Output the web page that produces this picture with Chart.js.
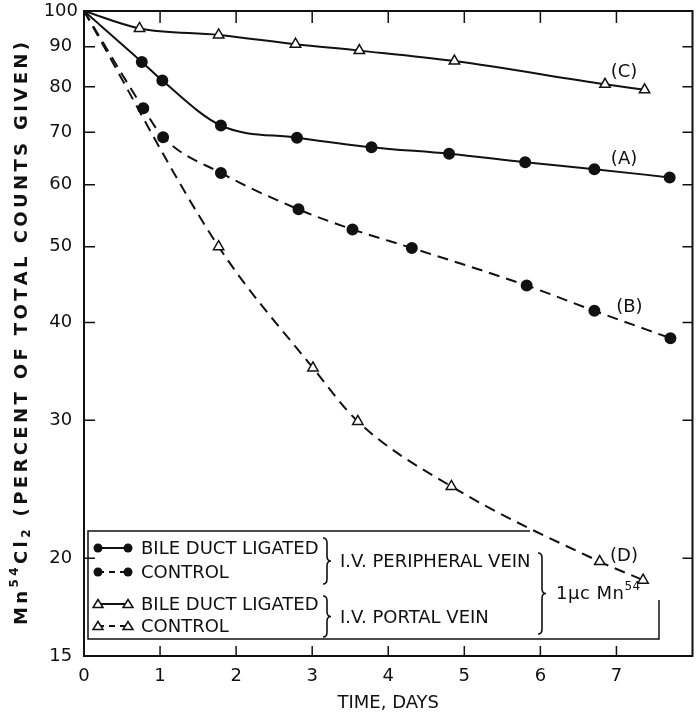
<!DOCTYPE html>
<html>
<head>
<meta charset="utf-8">
<script src="https://cdn.jsdelivr.net/npm/chart.js@4/dist/chart.umd.min.js"></script>
<style>
  html, body { margin: 0; padding: 0; background: #fff; }
</style>
</head>
<body>
<canvas id="chart" width="700" height="716"></canvas>
<script>
// values (time in days, % of total counts given)
const timesA = [0, 0.76, 1.03, 1.80, 2.80, 3.78, 4.80, 5.80, 6.71, 7.70];
const valuesA = [100, 86.1, 81.5, 71.4, 68.9, 67.0, 65.7, 64.1, 62.8, 61.3];
const timesB = [0, 0.78, 1.04, 1.80, 2.82, 3.53, 4.31, 5.82, 6.71, 7.71];
const valuesB = [100, 75.1, 69.0, 62.1, 55.8, 52.6, 49.8, 44.6, 41.4, 38.2];
const timesC = [0, 0.73, 1.77, 2.78, 3.62, 4.87, 6.85, 7.37];
const valuesC = [100, 95.0, 93.2, 90.7, 89.0, 86.3, 80.6, 79.3];
const timesD = [0, 1.77, 3.01, 3.60, 4.83, 6.78, 7.35];
const valuesD = [100, 50.0, 35.0, 29.9, 24.7, 19.8, 18.75];

const xTicks = [0, 1, 2, 3, 4, 5, 6, 7];
const yTicks = [15, 20, 30, 40, 50, 60, 70, 80, 90, 100];

// curve tags, placed in data units
const curveNames = ['(A)', '(B)', '(C)', '(D)'];
const curveLabelX = [7.1, 7.17, 7.1, 7.1];
const curveLabelY = [64.6, 41.8, 83.6, 20.1];

const INK = '#111';
const FONT = '"DejaVu Sans", sans-serif';

function pts(xs, ys) {
    return xs.map((x, i) => ({ x: x, y: ys[i] }));
}

// no marker at the starting point (0, 100)
const dotSize = (ctx) => (ctx.dataIndex === 0 ? 0 : 5);
const triSize = (ctx) => (ctx.dataIndex === 0 ? 0 : 6);

function drawBrace(ctx, x, y1, y2, w) {
    const mid = (y1 + y2) / 2;
    const r = 5;
    ctx.beginPath();
    ctx.moveTo(x, y1);
    ctx.quadraticCurveTo(x + w, y1, x + w, y1 + r);
    ctx.lineTo(x + w, mid - r);
    ctx.quadraticCurveTo(x + w, mid, x + 2 * w, mid);
    ctx.quadraticCurveTo(x + w, mid, x + w, mid + r);
    ctx.lineTo(x + w, y2 - r);
    ctx.quadraticCurveTo(x + w, y2, x, y2);
    ctx.stroke();
}

function legendSymbol(ctx, y, dashed, filled) {
    const x1 = 98, x2 = 128;
    ctx.save();
    ctx.lineWidth = 2;
    ctx.strokeStyle = INK;
    ctx.setLineDash(dashed ? [6, 5] : []);
    ctx.beginPath();
    ctx.moveTo(x1, y);
    ctx.lineTo(x2, y);
    ctx.stroke();
    ctx.setLineDash([]);
    [x1, x2].forEach((x) => {
        ctx.beginPath();
        if (filled) {
            ctx.arc(x, y, 4.5, 0, Math.PI * 2);
            ctx.fillStyle = INK;
            ctx.fill();
        } else {
            ctx.moveTo(x, y - 4.5);
            ctx.lineTo(x + 5, y + 3.5);
            ctx.lineTo(x - 5, y + 3.5);
            ctx.closePath();
            ctx.fillStyle = '#fff';
            ctx.fill();
            ctx.lineWidth = 1.5;
            ctx.stroke();
        }
    });
    ctx.restore();
}

// draw a list of [text, font, shift] pieces along a baseline, with extra letter spacing
function drawPieces(ctx, pieces, x, y, spacing) {
    pieces.forEach(([text, font, shift]) => {
        ctx.font = font;
        for (const ch of text) {
            ctx.fillText(ch, x, y + shift);
            x += ctx.measureText(ch).width + spacing;
        }
    });
    return x;
}

function piecesWidth(ctx, pieces, spacing) {
    let w = 0, n = 0;
    pieces.forEach(([text, font]) => {
        ctx.font = font;
        for (const ch of text) {
            w += ctx.measureText(ch).width;
            n++;
        }
    });
    return w + spacing * (n - 1);
}

const decorations = {
    id: 'decorations',
    afterDraw(chart) {
        const ctx = chart.ctx;
        const a = chart.chartArea;
        const xs = chart.scales.x;
        const ys = chart.scales.y;
        ctx.save();
        ctx.strokeStyle = INK;
        ctx.fillStyle = INK;

        // frame
        ctx.lineWidth = 2;
        ctx.strokeRect(a.left, a.top, a.right - a.left, a.bottom - a.top);

        // inward ticks on all four sides
        ctx.lineWidth = 1.5;
        ctx.beginPath();
        yTicks.slice(1, -1).forEach((v) => {
            const py = ys.getPixelForValue(v);
            ctx.moveTo(a.left, py); ctx.lineTo(a.left + 11, py);
            ctx.moveTo(a.right, py); ctx.lineTo(a.right - 10, py);
        });
        xTicks.slice(1).forEach((v) => {
            const px = xs.getPixelForValue(v);
            ctx.moveTo(px, a.top); ctx.lineTo(px, a.top + 12);
            ctx.moveTo(px, a.bottom); ctx.lineTo(px, a.bottom - 10);
        });
        ctx.stroke();

        // curve tags
        ctx.font = '18px ' + FONT;
        ctx.textAlign = 'center';
        ctx.textBaseline = 'middle';
        curveNames.forEach((name, i) => {
            ctx.fillText(name, xs.getPixelForValue(curveLabelX[i]), ys.getPixelForValue(curveLabelY[i]));
        });

        // x axis title
        ctx.fillText('TIME, DAYS', (a.left + a.right) / 2, 703);

        // y axis title, rotated, fitted to the plot height
        const big = 'bold 18px ' + FONT;
        const small = 'bold 12px ' + FONT;
        const yPieces = [
            ['Mn', big, 0], ['54', small, -7], ['Cl', big, 0], ['2', small, 5],
            [' (PERCENT OF TOTAL COUNTS GIVEN)', big, 0]
        ];
        const target = 583;
        const natural = piecesWidth(ctx, yPieces, 0);
        let count = 0;
        yPieces.forEach((p) => { count += [...p[0]].length; });
        const spacing = Math.max(0, (target - natural) / (count - 1));
        ctx.save();
        ctx.translate(22, (a.top + a.bottom) / 2);
        ctx.rotate(-Math.PI / 2);
        ctx.textAlign = 'left';
        ctx.textBaseline = 'middle';
        drawPieces(ctx, yPieces, -target / 2, 0, spacing);
        ctx.restore();

        // legend box
        ctx.lineWidth = 1.5;
        ctx.beginPath();
        ctx.moveTo(530, 531);
        ctx.lineTo(88, 531);
        ctx.lineTo(88, 639);
        ctx.lineTo(659, 639);
        ctx.lineTo(659, 600);
        ctx.stroke();

        legendSymbol(ctx, 548, false, true);
        legendSymbol(ctx, 572, true, true);
        legendSymbol(ctx, 604, false, false);
        legendSymbol(ctx, 626, true, false);

        ctx.textAlign = 'left';
        ctx.textBaseline = 'middle';
        ctx.font = '18px ' + FONT;
        ctx.fillText('BILE DUCT LIGATED', 141, 549);
        ctx.fillText('CONTROL', 141, 573);
        ctx.fillText('BILE DUCT LIGATED', 141, 605);
        ctx.fillText('CONTROL', 141, 627);
        ctx.fillText('I.V. PERIPHERAL VEIN', 340, 562);
        ctx.fillText('I.V. PORTAL VEIN', 340, 618);

        ctx.lineWidth = 1.6;
        drawBrace(ctx, 323, 538, 584, 4);
        drawBrace(ctx, 323, 596, 637, 4);
        drawBrace(ctx, 538, 553, 634, 4);

        drawPieces(ctx, [['1μc Mn', '18px ' + FONT, 0], ['54', '12px ' + FONT, -7]], 556, 594, 0.5);

        ctx.restore();
    }
};

const lineBase = {
    borderColor: INK,
    borderWidth: 2,
    fill: false,
    cubicInterpolationMode: 'monotone',
    pointBorderColor: INK
};

new Chart(document.getElementById('chart'), {
    type: 'line',
    data: {
        datasets: [
            Object.assign({}, lineBase, {
                label: 'Bile duct ligated, peripheral vein (A)',
                data: pts(timesA, valuesA),
                pointStyle: 'circle',
                pointRadius: dotSize,
                pointHoverRadius: dotSize,
                pointBackgroundColor: INK
            }),
            Object.assign({}, lineBase, {
                label: 'Control, peripheral vein (B)',
                data: pts(timesB, valuesB),
                borderDash: [11, 7],
                pointStyle: 'circle',
                pointRadius: dotSize,
                pointHoverRadius: dotSize,
                pointBackgroundColor: INK
            }),
            Object.assign({}, lineBase, {
                label: 'Bile duct ligated, portal vein (C)',
                data: pts(timesC, valuesC),
                pointStyle: 'triangle',
                pointRadius: triSize,
                pointHoverRadius: triSize,
                pointBackgroundColor: '#fff',
                pointBorderWidth: 1.5
            }),
            Object.assign({}, lineBase, {
                label: 'Control, portal vein (D)',
                data: pts(timesD, valuesD),
                borderDash: [11, 7],
                pointStyle: 'triangle',
                pointRadius: triSize,
                pointHoverRadius: triSize,
                pointBackgroundColor: '#fff',
                pointBorderWidth: 1.5
            })
        ]
    },
    options: {
        responsive: false,
        animation: false,
        layout: { padding: { top: 11, right: 5, left: 0, bottom: 0 } },
        plugins: {
            legend: { display: false },
            tooltip: { enabled: false }
        },
        scales: {
            x: {
                type: 'linear',
                min: 0,
                max: 8,
                afterBuildTicks: (s) => { s.ticks = xTicks.map((v) => ({ value: v })); },
                afterFit: (s) => {
                    s.height = 60;
                    s.paddingLeft = 0;
                    s.paddingRight = 0;
                },
                grid: { display: false, drawTicks: false },
                border: { display: false },
                ticks: {
                    color: INK,
                    font: { family: FONT, size: 18 },
                    padding: 10,
                    maxRotation: 0,
                    callback: (v) => String(v)
                }
            },
            y: {
                type: 'logarithmic',
                min: 15,
                max: 100,
                afterBuildTicks: (s) => { s.ticks = yTicks.map((v) => ({ value: v })); },
                afterFit: (s) => {
                    s.width = 84;
                    s.paddingTop = 0;
                    s.paddingBottom = 0;
                },
                grid: { display: false, drawTicks: false },
                border: { display: false },
                ticks: {
                    color: INK,
                    font: { family: FONT, size: 18 },
                    padding: 6,
                    crossAlign: 'center',
                    callback: (v) => String(v)
                }
            }
        }
    },
    plugins: [decorations]
});
</script>
</body>
</html>
